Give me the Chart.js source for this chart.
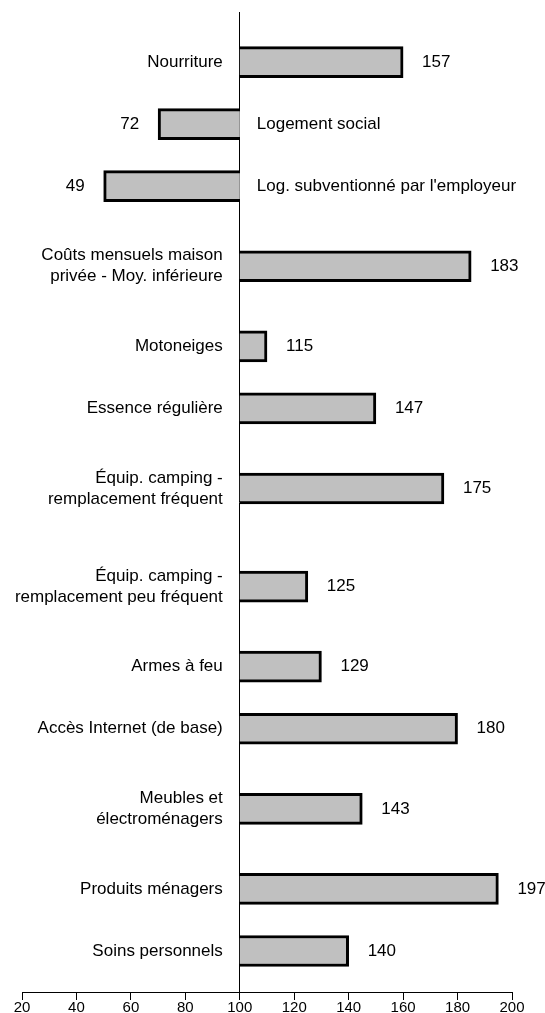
<!DOCTYPE html>
<html>
<head>
<meta charset="utf-8">
<script src="https://cdn.jsdelivr.net/npm/chart.js@4/dist/chart.umd.min.js"></script>
<style>
  body { margin: 0; background: #fff; }
  #wrap { width: 545px; height: 1013px; }
</style>
</head>
<body>
<div id="wrap"><canvas id="barChart"></canvas></div>
<script>
// categories (one entry per line of the label)
const categories = [
  ["Nourriture"],
  ["Logement social"],
  ["Log. subventionné par l'employeur"],
  ["Coûts mensuels maison", "privée - Moy. inférieure"],
  ["Motoneiges"],
  ["Essence régulière"],
  ["Équip. camping -", "remplacement fréquent"],
  ["Équip. camping -", "remplacement peu fréquent"],
  ["Armes à feu"],
  ["Accès Internet (de base)"],
  ["Meubles et", "électroménagers"],
  ["Produits ménagers"],
  ["Soins personnels"]
];
// printed index values
const valueLabels = [157, 72, 49, 183, 115, 147, 175, 125, 129, 180, 143, 197, 140];
// where the bars end as drawn in the picture
const barValues = [160, 70, 50, 185, 110, 150, 175, 125, 130, 180, 145, 195, 140];
const baseValue = 100;
const xTicks = [20, 40, 60, 80, 100, 120, 140, 160, 180, 200];

const FONT = "'Liberation Sans', Arial, sans-serif";

// rows with two-line labels get more room
let acc = 0;
const rowPos = categories.map(c => {
  const h = c.length > 1 ? 98 : 62;
  const p = acc + h / 2;
  acc += h;
  return p;
});

const ctx = document.getElementById("barChart").getContext("2d");

const labelPlugin = {
  id: "rowLabels",
  afterDatasetsDraw(chart) {
    const c = chart.ctx;
    const xs = chart.scales.x;
    const ys = chart.scales.y;
    const axisX = xs.getPixelForValue(baseValue);
    c.save();
    c.fillStyle = "#000";
    c.font = "17px " + FONT;
    c.textBaseline = "middle";
    categories.forEach((lines, i) => {
      const y = ys.getPixelForValue(rowPos[i]);
      const end = xs.getPixelForValue(barValues[i]);
      const up = barValues[i] >= baseValue;
      const lh = 21;
      const y0 = y - (lines.length - 1) * lh / 2;
      c.textAlign = up ? "right" : "left";
      lines.forEach((t, k) => {
        c.fillText(t, up ? axisX - 17 : axisX + 17, y0 + k * lh);
      });
      c.textAlign = up ? "left" : "right";
      c.fillText(String(valueLabels[i]), up ? end + 19 : end - 19, y);
    });
    c.restore();
  }
};

let bChart = new Chart(ctx, {
  type: "bar",
  data: {
    datasets: [
      {
        data: barValues.map((v, i) => ({ x: [baseValue, v], y: rowPos[i] })),
        backgroundColor: "#c0c0c0",
        borderColor: "#000",
        borderWidth: 3,
        borderSkipped: c => (barValues[c.dataIndex] >= baseValue ? "left" : "right"),
        barThickness: 31
      }
    ]
  },
  options: {
    indexAxis: "y",
    responsive: true,
    maintainAspectRatio: false,
    animation: false,
    layout: {
      padding: { left: 22, right: 33, top: 12, bottom: 0 }
    },
    plugins: {
      legend: { display: false },
      tooltip: { enabled: false }
    },
    scales: {
      x: {
        type: "linear",
        position: "bottom",
        min: 20,
        max: 200,
        afterBuildTicks: s => { s.ticks = xTicks.map(v => ({ value: v })); },
        afterFit: s => { s.height = 21; },
        ticks: {
          color: "#000",
          padding: 0,
          font: { family: FONT, size: 15, lineHeight: 1 },
          maxRotation: 0
        },
        grid: {
          drawOnChartArea: false,
          drawTicks: true,
          tickLength: 8,
          color: "#000"
        },
        border: { display: true, color: "#000", width: 1 }
      },
      y: {
        type: "linear",
        position: { x: baseValue },
        reverse: true,
        offset: false,
        min: rowPos[0] - 50,
        max: rowPos[rowPos.length - 1] + 41,
        ticks: { display: false },
        grid: { offset: false, drawOnChartArea: false, drawTicks: false, color: "#000" },
        border: { display: true, color: "#000", width: 1 }
      }
    }
  },
  plugins: [labelPlugin]
});
</script>
</body>
</html>
